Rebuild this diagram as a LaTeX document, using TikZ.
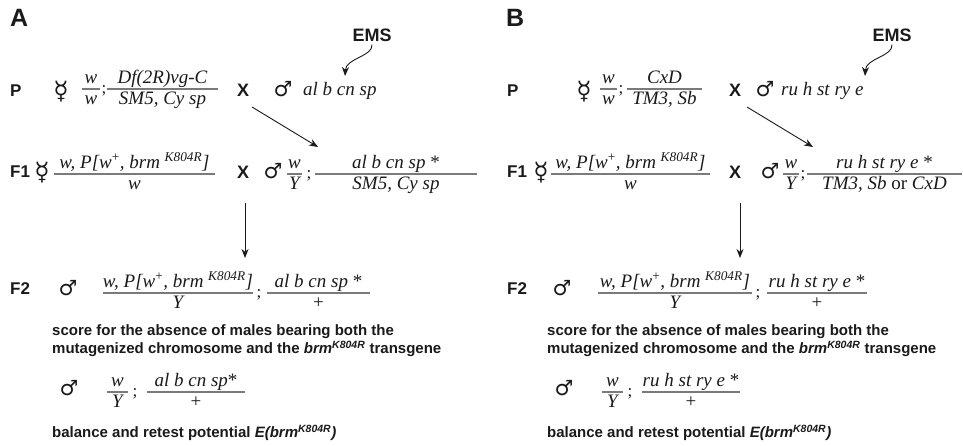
\documentclass[tikz,border=0pt]{standalone}
\usepackage{fontspec}
\setmainfont{Liberation Serif}
\newfontfamily\labf{Liberation Sans}
\newfontfamily\symf{DejaVu Sans}
\usetikzlibrary{arrows.meta}
\definecolor{fgray}{HTML}{7A7A7A}
\definecolor{ink}{HTML}{1A1A1A}
\tikzset{
 big/.style={font=\labf\bfseries\fontsize{25}{28}\selectfont, inner sep=0, anchor=west, text=ink},
 lab/.style={font=\labf\bfseries\fontsize{17}{20}\selectfont, inner sep=0, anchor=west, text=ink},
 cross/.style={font=\labf\bfseries\fontsize{18}{20}\selectfont, inner sep=0, text=ink},
 ems/.style={font=\labf\bfseries\fontsize{18}{20}\selectfont, inner sep=0, text=ink},
 txt/.style={font=\labf\bfseries\fontsize{15}{17}\selectfont, inner sep=0, anchor=west, text=ink},
 gt/.style={font=\fontsize{19}{22}\selectfont\itshape, inner sep=0, text=ink},
 gtl/.style={gt, anchor=base west},
 semi/.style={font=\fontsize{17}{20}\selectfont, inner sep=0, anchor=base, text=ink},
 sym/.style={font=\symf\fontsize{21}{24}\selectfont, inner sep=0, text=ink},
 fsym/.style={font=\symf\fontsize{25}{28}\selectfont, inner sep=0, text=ink},
 fbar/.style={draw=fgray, line width=1.3pt},
 arr/.style={draw=ink, -{Stealth[length=9pt,width=7pt]}, line width=0.9pt},
}
\newcommand\gfr[6]{%
 \coordinate (#1l) at (#2,#4);
 \coordinate (#1r) at (#3,#4);
 \path (#1l) -- (#1r) coordinate[midway] (#1);
 \node[gt, anchor=base] (#1n) at ([yshift=6pt]#1) {#5};
 \node[gt, anchor=base] (#1d) at ([yshift=-15.5pt]#1) {#6};
 \draw[fbar] (#1l) -- (#1r);
}
\newcommand\wP{w, P[w\textsuperscript{\upshape +}, brm \textsuperscript{K804R}]}
\begin{document}
\begin{tikzpicture}[x=1pt,y=-1pt]
\useasboundingbox[fill=white] (0,0) rectangle (963,445);
% ================= Panel A =================
\node[big] (lA) at (10,18) {A};
\node[ems] (emsA) at (372,35) {EMS};
\coordinate (emsAt) at (345,76);
\draw[arr] ([yshift=-3pt]emsA.south) .. controls +(1,12) and +(1,-18) .. (emsAt);
% P row
\node[lab] (pA) at (10,91) {P};
\node[fsym] (fA1) at (61,92) {☿};
\gfr{aP1}{82}{100}{89}{w}{w}
\node[semi] (sA1) at (104,93) {;};
\gfr{aP2}{107}{218}{89}{Df(2R)vg-C}{SM5, Cy sp}
\node[cross] (xA1) at (243,90) {X};
\node[sym] (mA1) at (283,89) {♂};
\node[gtl] (gA1) at (303,95) {al b cn sp};
\coordinate (dA0) at (252,107);
\coordinate (dA1) at (318,147);
\draw[arr] (dA0) -- (dA1);
% F1 row
\node[lab] (f1A) at (10,172) {F1};
\node[fsym] (fA2) at (42,173) {☿};
\gfr{aF1}{54}{215}{174}{\wP}{w}
\node[cross] (xA2) at (243,172) {X};
\node[sym] (mA2) at (273,171) {♂};
\gfr{aF2}{287}{302}{174}{w}{Y}
\node[semi] (sA2) at (309,178) {;};
\gfr{aF3}{315}{477}{174}{al b cn sp \upshape*}{SM5, Cy sp}
\coordinate (vA0) at (245,203);
\coordinate (vA1) at (245,258);
\draw[arr] (vA0) -- (vA1);
% F2 row
\node[lab] (f2A) at (10,289) {F2};
\node[sym] (mA3) at (68,288) {♂};
\gfr{aG1}{103}{253}{293}{\wP}{Y}
\node[semi] (sA3) at (259,297) {;};
\gfr{aG2}{267}{370}{293}{al b cn sp \upshape*}{\upshape+}
\node[txt] (tA1) at (52,332) {score for the absence of males bearing both the};
\node[txt] (tA2) at (52,349) {mutagenized chromosome and the \textit{brm}\textsuperscript{\textit{K804R}} transgene};
% retest row
\node[sym] (mA4) at (69,388) {♂};
\gfr{aH1}{107}{128}{392}{w}{Y}
\node[semi] (sA4) at (135,396) {;};
\gfr{aH2}{147}{245}{392}{al b cn sp\upshape*}{\upshape+}
\node[txt] (tA3) at (52,433) {balance and retest potential \textit{E(brm}\textsuperscript{\textit{K804R}}\textit{)}};
% ================= Panel B =================
\node[big] (lB) at (506,18) {B};
\node[ems] (emsB) at (892,35) {EMS};
\coordinate (emsBt) at (865,76);
\draw[arr] ([yshift=-3pt]emsB.south) .. controls +(1,12) and +(1,-18) .. (emsBt);
% P row
\node[lab] (pB) at (507,91) {P};
\node[fsym] (fB1) at (584,92) {☿};
\gfr{bP1}{600}{617}{89}{w}{w}
\node[semi] (sB1) at (621,93) {;};
\gfr{bP2}{627}{702}{89}{CxD}{TM3, Sb}
\node[cross] (xB1) at (735,90) {X};
\node[sym] (mB1) at (765,89) {♂};
\node[gtl] (gB1) at (781,95) {ru h st ry e};
\coordinate (dB0) at (747,107);
\coordinate (dB1) at (813,147);
\draw[arr] (dB0) -- (dB1);
% F1 row
\node[lab] (f1B) at (507,172) {F1};
\node[fsym] (fB2) at (541,173) {☿};
\gfr{bF1}{551}{710}{174}{\wP}{w}
\node[cross] (xB2) at (735,172) {X};
\node[sym] (mB2) at (770,171) {♂};
\gfr{bF2}{783}{799}{174}{w}{Y}
\node[semi] (sB2) at (803,178) {;};
\gfr{bF3}{807}{962}{174}{ru h st ry e \upshape*}{TM3, Sb \upshape or \itshape CxD}
\coordinate (vB0) at (740,203);
\coordinate (vB1) at (740,258);
\draw[arr] (vB0) -- (vB1);
% F2 row
\node[lab] (f2B) at (507,289) {F2};
\node[sym] (mB3) at (562,288) {♂};
\gfr{bG1}{598}{752}{293}{\wP}{Y}
\node[semi] (sB3) at (758,297) {;};
\gfr{bG2}{767}{867}{293}{ru h st ry e \upshape*}{\upshape+}
\node[txt] (tB1) at (547,332) {score for the absence of males bearing both the};
\node[txt] (tB2) at (547,349) {mutagenized chromosome and the \textit{brm}\textsuperscript{\textit{K804R}} transgene};
% retest row
\node[sym] (mB4) at (564,388) {♂};
\gfr{bH1}{602}{623}{392}{w}{Y}
\node[semi] (sB4) at (630,396) {;};
\gfr{bH2}{642}{740}{392}{ru h st ry e \upshape*}{\upshape+}
\node[txt] (tB3) at (547,433) {balance and retest potential \textit{E(brm}\textsuperscript{\textit{K804R}}\textit{)}};
\end{tikzpicture}
\end{document}
